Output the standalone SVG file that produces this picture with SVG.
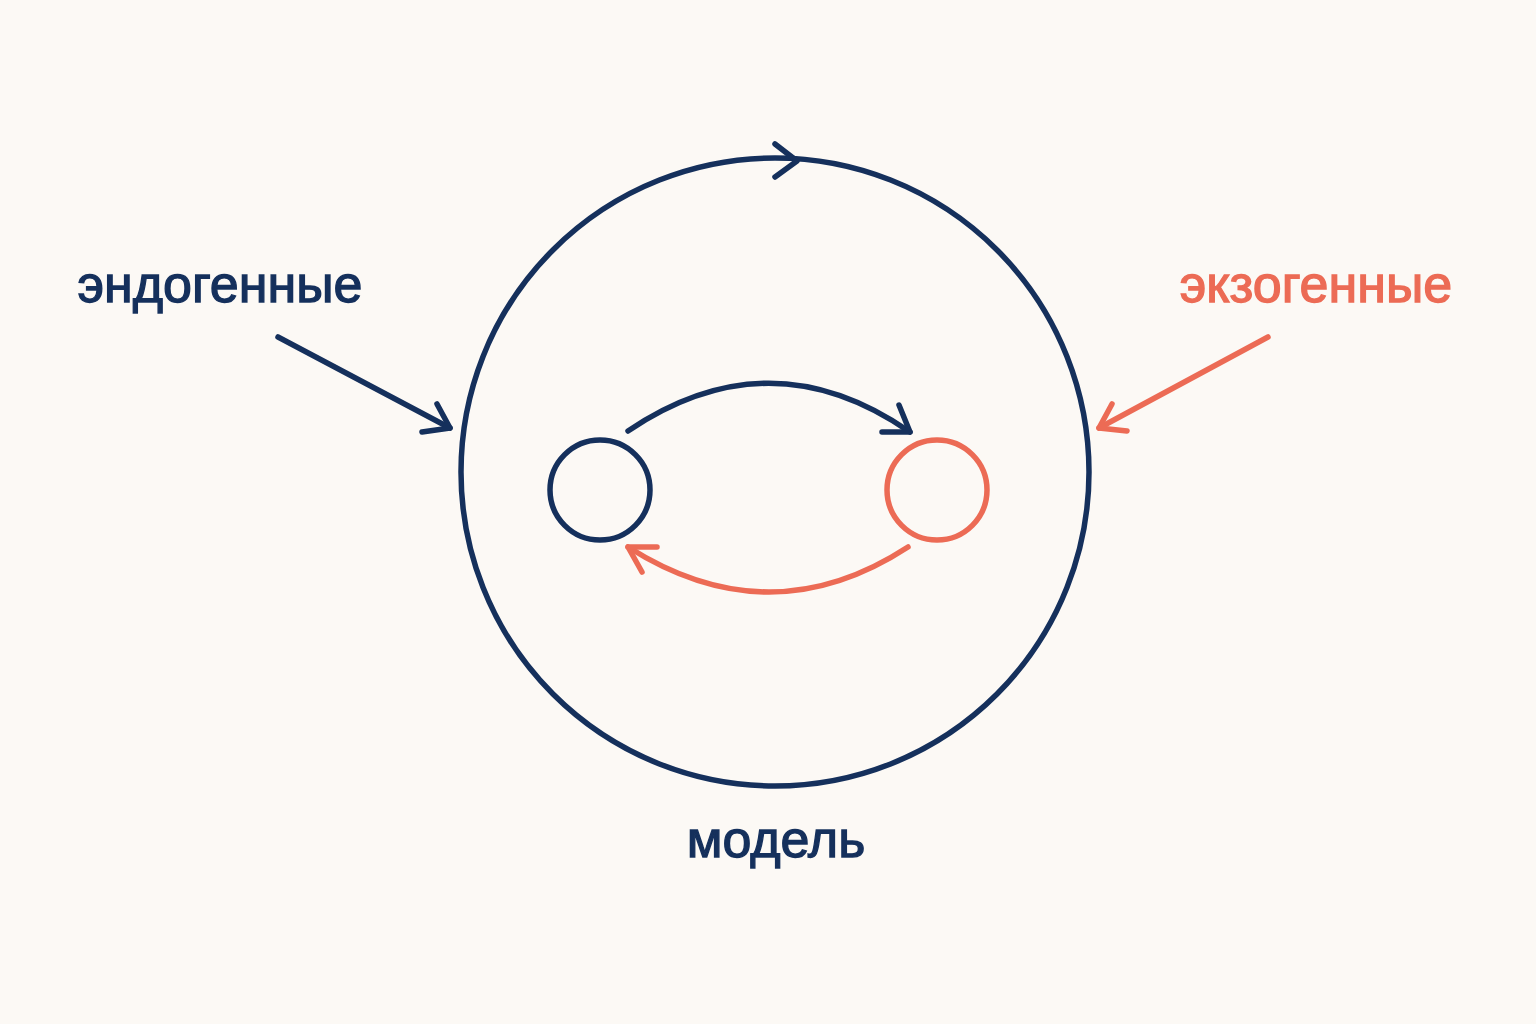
<svg xmlns="http://www.w3.org/2000/svg" width="1536" height="1024" viewBox="0 0 1536 1024">
<style>
.navy{stroke:#15305c;fill:none;stroke-width:5.5;stroke-linecap:round;stroke-linejoin:round}
.coral{stroke:#ec6b55;fill:none;stroke-width:5.5;stroke-linecap:round;stroke-linejoin:round}
.lbl{font-family:"Liberation Sans","DejaVu Sans",sans-serif;font-size:52px;text-anchor:middle;stroke-width:1.3}
</style>
<rect width="1536" height="1024" fill="#fcf9f5"/>
<g id="model">
<circle class="navy" cx="775" cy="472" r="314" stroke-width="5"/>
<text class="lbl" x="776" y="857" fill="#15305c" stroke="#15305c">модель</text>
</g>
<g id="node-endo">
<circle class="navy" cx="600" cy="490" r="50"/>
</g>
<g id="node-exo">
<circle class="coral" cx="937" cy="490" r="50"/>
</g>
<g id="label-endo">
<text class="lbl" x="220" y="302" fill="#15305c" stroke="#15305c">эндогенные</text>
</g>
<g id="label-exo">
<text class="lbl" x="1316" y="302" fill="#ec6b55" stroke="#ec6b55">экзогенные</text>
</g>
<g id="connectors">
<path class="navy" d="M775 144 L797 161 L775 177"/>
<path class="navy" d="M278 337 L450 428"/>
<path class="navy" d="M437 404 L450 428 L422 432"/>
<path class="coral" d="M1268 337 L1099 428"/>
<path class="coral" d="M1112 404 L1099 428 L1127 431"/>
<path class="navy" d="M628 431 Q770 335 910 432"/>
<path class="navy" d="M899 405 L910 432 L882 432"/>
<path class="coral" d="M908 547 Q770 637 628 547"/>
<path class="coral" d="M657 547 L628 547 L642 572"/>
</g>
</svg>
